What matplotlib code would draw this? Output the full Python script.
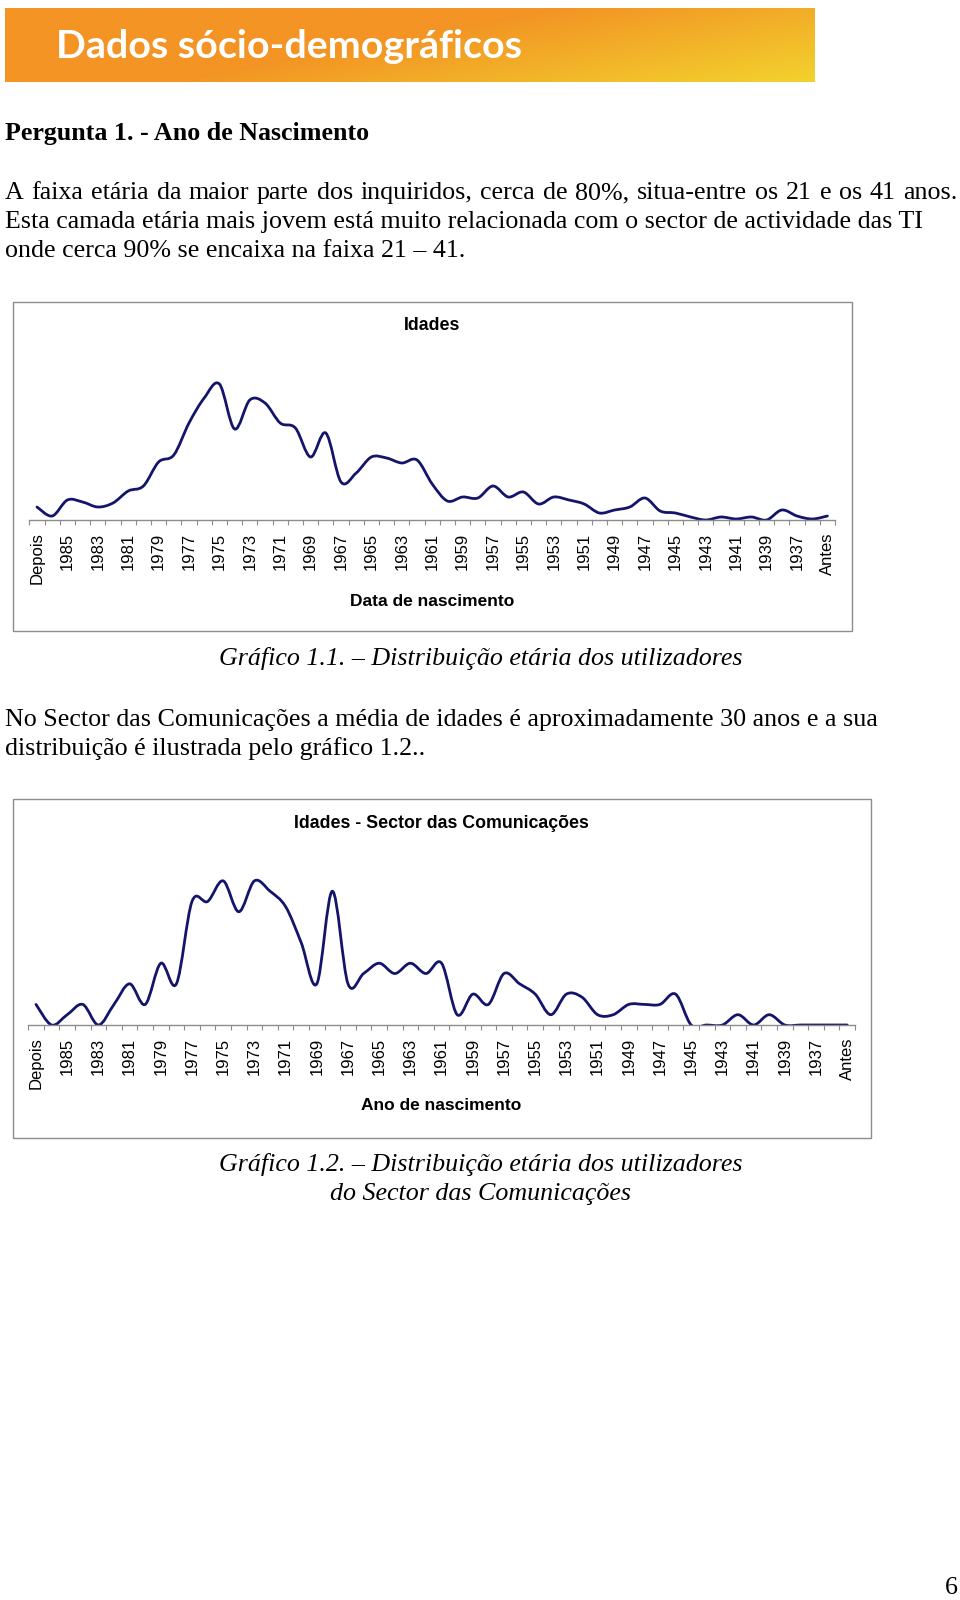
import numpy as np
import matplotlib
matplotlib.use('Agg')
import matplotlib.pyplot as plt
from matplotlib.path import Path
from matplotlib.patches import PathPatch, Rectangle

# categories: Depois, 1986 ... 1936, Antes
categories = ['Depois'] + [str(y) for y in range(1986, 1935, -1)] + ['Antes']
tick_labels = [c if i % 2 == 0 else '' for i, c in enumerate(categories)]

# chart 1 - all respondents
idades = [13, 4, 20, 18, 13, 17, 29, 34, 58, 65,
          97, 122, 136, 91, 120, 117, 97, 92, 63, 87,
          38, 47, 63, 62, 57, 60, 36, 19, 23, 22,
          34, 23, 28, 16, 23, 20, 16, 7, 10, 13,
          22, 9, 7, 3, 0, 3, 1, 3, 0, 10,
          4, 1, 4]

# chart 2 - communications sector
idades_com = [2, 0, 1, 2, 0, 2, 4, 2, 6, 4,
              12, 12, 14, 11, 14, 13, 11.5, 8, 4, 13,
              4, 5, 6, 5, 6, 5, 6, 1, 3, 2,
              5, 4, 3, 1, 3, 2.7, 1, 1, 2, 2,
              2, 3, 0, 0, 0, 1, 0, 1, 0, 0,
              0, 0, 0]

NAVY = '#14146b'
GREY = '#8c8c8c'
SANS = ['Liberation Sans', 'DejaVu Sans']
SERIF = ['Liberation Serif', 'DejaVu Serif']
FS = 18.7

W, H = 960, 1600
fig = plt.figure(figsize=(W / 100, H / 100), dpi=100)
page = fig.add_axes([0, 0, 1, 1])
page.set_xlim(0, W)
page.set_ylim(H, 0)
page.axis('off')
renderer = fig.canvas.get_renderer()


def px_axes(x0, y0, x1, y1):
    # axes from pixel box (top-left origin)
    return fig.add_axes([x0 / W, 1 - y1 / H, (x1 - x0) / W, (y1 - y0) / H])


def smooth_path(vals):
    # Excel-like smoothed line: catmull-rom segments as cubic beziers
    x = np.arange(len(vals), dtype=float)
    y = np.asarray(vals, dtype=float)
    pts = np.column_stack([x, y])
    ext = np.vstack([pts[0], pts, pts[-1]])
    verts = [pts[0]]
    codes = [Path.MOVETO]
    for i in range(len(pts) - 1):
        p0, p1, p2, p3 = ext[i], ext[i + 1], ext[i + 2], ext[i + 3]
        verts += [p1 + (p2 - p0) / 6.0, p2 - (p3 - p1) / 6.0, p2]
        codes += [Path.CURVE4] * 3
    return Path(verts, codes)


def justified(x0, x1, y, line, **kw):
    # spread the words of one line between x0 and x1
    words = line.split(' ')
    texts = [page.text(0, y, w, va='baseline', **kw) for w in words]
    widths = [t.get_window_extent(renderer).width for t in texts]
    gap = (x1 - x0 - sum(widths)) / (len(words) - 1)
    x = x0
    for t, w in zip(texts, widths):
        t.set_x(x)
        x += w + gap


# banner
ban = px_axes(5, 8, 815, 82)
gx, gy = np.meshgrid(np.linspace(0, 1, 300), np.linspace(0, 1, 60))
t = np.clip(1.25 * gx - 0.6 * gy - 0.25, 0, 1)
c0 = np.array([243, 148, 36]) / 255.0
c1 = np.array([242, 210, 46]) / 255.0
img = c0[None, None, :] * (1 - t[..., None]) + c1[None, None, :] * t[..., None]
ban.imshow(img, aspect='auto', extent=[5, 815, 82, 8], origin='lower')
ban.set_xlim(5, 815)
ban.set_ylim(82, 8)
ban.axis('off')
ban.text(56, 47, 'Dados sócio-demográficos', color='white', fontsize=28.4,
         fontweight='bold', family=['Lato', 'DejaVu Sans'], va='center', ha='left')

# body text
page.text(5, 140, 'Pergunta 1. - Ano de Nascimento', family=SERIF, fontsize=FS,
          fontweight='bold', va='baseline')
body = ['A faixa etária da maior parte dos inquiridos, cerca de 80%, situa-entre os 21 e os 41 anos.',
        'Esta camada etária mais jovem está muito relacionada com o sector de actividade das TI',
        'onde cerca 90% se encaixa na faixa 21 – 41.']
justified(5, 958, 199, body[0], family=SERIF, fontsize=FS)
for k, line in enumerate(body[1:]):
    page.text(5, 228 + 29 * k, line, family=SERIF, fontsize=FS, va='baseline')

page.text(481, 665, 'Gráfico 1.1. – Distribuição etária dos utilizadores', family=SERIF,
          fontsize=FS, style='italic', ha='center', va='baseline')
body2 = ['No Sector das Comunicações a média de idades é aproximadamente 30 anos e a sua',
         'distribuição é ilustrada pelo gráfico 1.2..']
for k, line in enumerate(body2):
    page.text(5, 726 + 29 * k, line, family=SERIF, fontsize=FS, va='baseline')

page.text(481, 1171, 'Gráfico 1.2. – Distribuição etária dos utilizadores', family=SERIF,
          fontsize=FS, style='italic', ha='center', va='baseline')
page.text(481, 1200, 'do Sector das Comunicações', family=SERIF,
          fontsize=FS, style='italic', ha='center', va='baseline')
page.text(945, 1599, '6', family=SERIF, fontsize=FS, va='bottom')


def line_chart(frame, plot_box, vals, ymax, title, title_y, xlabel, xlabel_y):
    fx0, fy0, fx1, fy1 = frame
    page.add_patch(Rectangle((fx0, fy0), fx1 - fx0, fy1 - fy0, fill=False,
                             edgecolor=GREY, lw=1.0))
    cx = (plot_box[0] + plot_box[2]) / 2
    page.text(cx, title_y, title, family=SANS, fontsize=12.8, fontweight='bold',
              ha='center', va='center')
    page.text(cx, xlabel_y, xlabel, family=SANS, fontsize=12.5, fontweight='bold',
              ha='center', va='center')
    ax = px_axes(*plot_box)
    ax.set_facecolor('none')
    ax.add_patch(PathPatch(smooth_path(vals), facecolor='none', edgecolor=NAVY,
                           lw=2.0, capstyle='round', joinstyle='round'))
    ax.set_xlim(-0.5, len(vals) - 0.5)
    ax.set_ylim(0, ymax)
    for s in ['top', 'right', 'left']:
        ax.spines[s].set_visible(False)
    ax.spines['bottom'].set_color(GREY)
    ax.spines['bottom'].set_linewidth(1.0)
    ax.set_yticks([])
    ax.set_xticks(range(len(categories)))
    ax.set_xticklabels(tick_labels, rotation=90, family=SANS, fontsize=12)
    ax.tick_params(axis='x', which='major', length=0, pad=9)
    ax.set_xticks(np.arange(-0.5, len(categories), 1.0), minor=True)
    ax.tick_params(axis='x', which='minor', length=3.5, color=GREY, width=0.8)
    return ax


line_chart((13, 302, 852, 631), (29.4, 360, 835, 520), idades, 160,
           'Idades', 325, 'Data de nascimento', 601)
line_chart((13, 799, 871, 1138), (28.2, 850, 855, 1025), idades_com, 17,
           'Idades - Sector das Comunicações', 823, 'Ano de nascimento', 1105)

fig.savefig('out.png', dpi=100)
